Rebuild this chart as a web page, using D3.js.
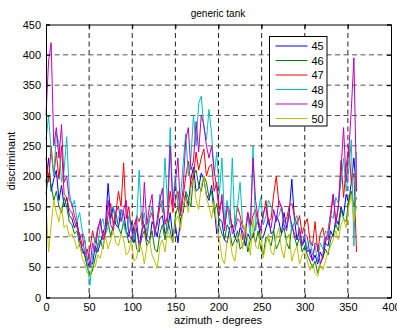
<!DOCTYPE html>
<html><head><meta charset="utf-8">
<script src="https://cdn.jsdelivr.net/npm/d3@7"></script>
<style>body{margin:0;background:#fff}text{font-family:Arial,"Liberation Sans",sans-serif}</style>
</head><body><svg id="c" width="397" height="329"></svg>
<script>
const azimuth = d3.range(0, 361, 3);
const seriesNames = ["45","46","47","48","49","50"];
const seriesColors = ["#0000ff","#008000","#ff0000","#00bfbf","#bf00bf","#bfbf00"];
const xTicks = [0,50,100,150,200,250,300,350,400];
const yTicks = [0,50,100,150,200,250,300,350,400,450];

const s45 = [190,230,175,195,210,160,185,150,165,135,
 130,115,125,95,80,70,50,60,55,85,
 75,90,105,120,188,130,150,120,115,145,
 140,110,100,125,90,115,85,110,120,95,
 90,125,115,100,130,135,105,110,140,100,
 120,90,130,140,170,150,195,215,175,180,
 205,195,170,160,185,150,105,130,125,95,
 90,115,120,100,90,115,110,85,105,95,
 100,120,125,95,100,115,130,105,110,135,
 125,105,140,115,140,195,130,95,110,85,
 95,75,80,60,70,55,75,65,90,85,
 110,100,130,120,150,135,170,155,190,230,
 175];
const s46 = [170,205,185,160,175,150,140,165,150,125,
 120,105,110,85,75,70,50,35,45,65,
 85,95,80,110,125,100,120,140,115,105,
 125,110,90,95,115,80,75,100,110,85,
 95,110,80,75,105,120,95,130,110,90,
 135,150,125,145,175,165,150,200,210,185,
 175,200,190,165,175,140,155,120,105,95,
 120,110,85,95,110,80,85,105,75,95,
 105,90,110,80,70,100,95,85,110,80,
 90,105,115,90,80,120,100,85,100,75,
 85,70,60,50,60,40,55,65,80,70,
 95,105,120,110,145,130,125,160,175,150,
 165];
const s47 = [230,190,250,200,240,195,250,170,165,145,
 140,125,115,105,85,95,60,80,110,90,
 115,125,100,110,135,155,120,140,175,150,
 222,130,150,110,105,135,125,140,115,100,
 130,140,110,120,150,160,125,130,175,140,
 160,175,135,165,200,225,185,200,240,210,
 230,245,200,215,220,175,190,145,160,120,
 145,140,115,120,150,135,115,110,140,115,
 135,145,120,115,135,160,125,130,170,200,
 155,150,125,130,150,155,135,120,135,105,
 120,130,95,85,125,75,105,115,90,110,
 140,170,125,150,226,165,215,250,190,205,
 75];
const s48 = [260,300,240,200,270,255,190,210,265,175,
 150,160,125,140,110,95,55,20,70,100,
 85,120,130,105,115,145,150,125,130,145,
 120,105,135,110,95,120,210,120,140,105,
 135,150,110,125,170,140,230,150,280,160,
 200,150,165,220,270,200,230,300,250,320,
 332,280,260,310,270,200,240,170,230,125,
 160,120,230,115,150,190,120,110,135,100,
 250,110,140,165,120,135,160,150,140,130,
 135,150,115,120,140,110,125,135,100,90,
 100,80,95,70,85,60,90,80,110,105,
 135,130,165,155,190,230,175,210,260,85,
 240];
const s49 = [300,390,420,250,280,230,285,190,200,160,
 155,135,120,100,105,70,80,50,90,75,
 110,130,95,105,160,120,110,140,150,125,
 145,160,105,95,120,130,85,100,190,120,
 150,170,100,130,160,180,120,135,250,150,
 190,230,140,180,260,280,210,225,290,240,
 300,285,250,230,250,210,180,135,170,110,
 150,145,105,110,130,125,95,100,140,120,
 230,160,130,110,140,150,120,115,145,125,
 160,150,120,110,140,120,105,95,115,85,
 105,100,70,60,90,85,55,70,100,95,
 130,170,120,150,210,280,190,240,310,395,
 180];
const s50 = [150,75,120,160,140,125,150,115,120,100,
 105,95,80,90,65,55,40,35,55,50,
 70,65,85,100,80,95,110,90,85,105,
 95,70,75,95,60,65,90,80,55,85,
 95,70,60,48,85,95,75,110,100,90,
 125,135,110,150,165,140,180,195,160,145,
 185,200,165,150,130,160,120,95,65,55,
 95,100,70,60,95,105,80,120,95,70,
 130,85,80,110,65,90,105,75,70,100,
 115,80,65,95,105,60,75,85,55,70,
 75,60,45,55,40,35,55,45,60,75,
 85,95,110,95,120,130,115,150,170,125,
 150];
const seriesValues = [s45,s46,s47,s48,s49,s50];

const svg = d3.select("#c");
const L=46, R=391, T=24.5, B=297.5;
const x = d3.scaleLinear().domain([0,400]).range([L,R]);
const y = d3.scaleLinear().domain([0,450]).range([B,T]);

// grid
const g = svg.append("g");
g.selectAll(".vg").data(xTicks.slice(1,-1)).enter().append("line")
 .attr("x1",d=>x(d)).attr("x2",d=>x(d)).attr("y1",T).attr("y2",B)
 .attr("stroke","#222").attr("stroke-width",1).attr("stroke-dasharray","5,3.5");
g.selectAll(".hg").data(yTicks.slice(1,-1)).enter().append("line")
 .attr("y1",d=>y(d)).attr("y2",d=>y(d)).attr("x1",L).attr("x2",R)
 .attr("stroke","#555").attr("stroke-width",1).attr("stroke-dasharray","5,3.5");

// lines
const line = d3.line().x((d,i)=>x(azimuth[i])).y(d=>y(d));
seriesValues.forEach((vals,k)=>{
  svg.append("path").datum(vals).attr("d",line).attr("fill","none")
   .attr("stroke",seriesColors[k]).attr("stroke-width",1);
});

// axes
const xAxis = d3.axisBottom(x).tickValues(xTicks).tickSize(-4).tickPadding(6);
const yAxis = d3.axisLeft(y).tickValues(yTicks).tickSize(-4).tickPadding(5);
const xa = svg.append("g").attr("transform",`translate(0,${B})`).call(xAxis);
const ya = svg.append("g").attr("transform",`translate(${L},0)`).call(yAxis);
const xt = svg.append("g").attr("transform",`translate(0,${T})`).call(d3.axisTop(x).tickValues(xTicks).tickSize(-4).tickFormat(""));
const yr = svg.append("g").attr("transform",`translate(${R},0)`).call(d3.axisRight(y).tickValues(yTicks).tickSize(-4).tickFormat(""));
[xa,ya,xt,yr].forEach(a=>{
  a.select(".domain").attr("stroke","#000").attr("stroke-width",1);
  a.selectAll(".tick line").attr("stroke","#000");
  a.selectAll("text").attr("font-size","11px").attr("fill","#000").attr("font-family","Arial, 'Liberation Sans', sans-serif");
});

svg.append("text").attr("x",218).attr("y",17).attr("text-anchor","middle").attr("font-size","10px").text("generic tank");
svg.append("text").attr("x",218).attr("y",324).attr("text-anchor","middle").attr("font-size","11px").text("azimuth - degrees");
svg.append("text").attr("transform","translate(15,161) rotate(-90)").attr("text-anchor","middle").attr("font-size","11px").text("discriminant");

// legend
const lg = svg.append("g");
lg.append("rect").attr("x",269.5).attr("y",36.5).attr("width",57.5).attr("height",89.5).attr("fill","#fff").attr("stroke","#000");
seriesNames.forEach((n,k)=>{
  const yy = 46 + k*14.5;
  lg.append("line").attr("x1",275.5).attr("x2",307.5).attr("y1",yy).attr("y2",yy).attr("stroke",seriesColors[k]).attr("stroke-width",1);
  lg.append("text").attr("x",311.5).attr("y",yy+4).attr("font-size","11px").text(n);
});
</script></body></html>
